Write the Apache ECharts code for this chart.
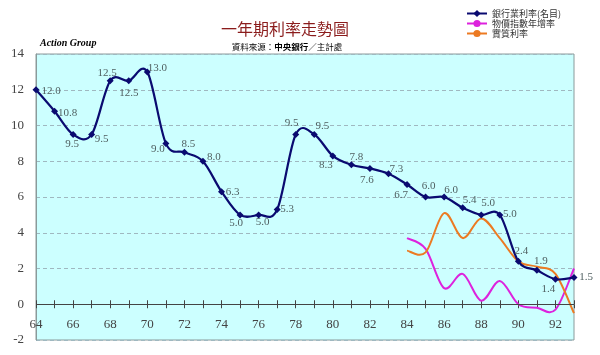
<!DOCTYPE html>
<html>
<head>
<meta charset="utf-8">
<script src="https://cdn.jsdelivr.net/npm/echarts@6/dist/echarts.min.js"></script>
<style>html,body{margin:0;padding:0;background:#fff;}#c{width:600px;height:355px;}</style>
</head>
<body>
<div id="c"></div>
<script>
// ---- data ----
const years = [64,65,66,67,68,69,70,71,72,73,74,75,76,77,78,79,80,81,82,83,84,85,86,87,88,89,90,91,92,93];
const bankRate = [12.0,10.8,9.5,9.5,12.5,12.5,13.0,9.0,8.5,8.0,6.3,5.0,5.0,5.3,9.5,9.5,8.3,7.8,7.6,7.3,6.7,6.0,6.0,5.4,5.0,5.0,2.4,1.9,1.4,1.5];
const cpiYears = [84,85,86,87,88,89,90,91,92,93];
const cpiGrowth = [3.7,3.1,0.9,1.7,0.2,1.3,0.0,-0.2,-0.3,2.0];
const realRate = [3.0,2.9,5.1,3.7,4.8,3.7,2.4,2.1,1.7,-0.5];
const xTickLabels = [64,66,68,70,72,74,76,78,80,82,84,86,88,90,92];
const yTicks = [-2,0,2,4,6,8,10,12,14];
const seriesNames = ['銀行業利率(名目)','物價指數年增率','實質利率'];

// ---- styling / label placement (by index) ----
const colors = ['#0a0a70','#dd22dd','#ec7a22'];
const labelOffsets = [[15,1],[13,2],[-1,10],[10,5],[-3,-8],[0,12],[10,-4],[-8,6],[4,-8],[11,-4],
  [11,0],[-4,8],[4,7],[10,0],[-4,-11],[8,-8],[-7,9],[5,-8],[-3,12],[8,-5],
  [-6,11],[3,-11],[7,-7],[7,-8],[7,-12],[10,-1],[3,-10],[4,-9],[-7,10],[12,0]];

const chart = echarts.init(document.getElementById('c'));
const serif = 'Liberation Serif';
const cjk = 'Noto Sans CJK TC';
const X = 1; // axis used by the series

// smooth curve (cardinal spline, like spreadsheet smoothing) through points mapped by the axes
function curveRenderer(xs, ys, color, width) {
  return function (params, api) {
    const pts = xs.map((x, i) => api.coord([x, ys[i]]));
    let d = 'M' + pts[0][0] + ',' + pts[0][1];
    for (let i = 0; i < pts.length - 1; i++) {
      const p0 = pts[i - 1] || pts[i], p1 = pts[i], p2 = pts[i + 1], p3 = pts[i + 2] || pts[i + 1];
      const c1x = p1[0] + (p2[0] - p0[0]) / 6, c1y = p1[1] + (p2[1] - p0[1]) / 6;
      const c2x = p2[0] - (p3[0] - p1[0]) / 6, c2y = p2[1] - (p3[1] - p1[1]) / 6;
      d += ' C' + c1x + ',' + c1y + ' ' + c2x + ',' + c2y + ' ' + p2[0] + ',' + p2[1];
    }
    return {type: 'path', shape: {pathData: d}, style: {stroke: color, lineWidth: width, fill: 'none', lineJoin: 'round'}};
  };
}

const blueData = years.map((y, i) => ({value: [y, bankRate[i]], label: {offset: labelOffsets[i]}}));

const xBase = {type: 'value', min: 64, max: 93, interval: 1, splitLine: {show: false}, axisLabel: {show: false}};

chart.setOption({
  animation: false,
  backgroundColor: '#ffffff',
  graphic: [
    {type: 'text', x: 285, y: 29, style: {text: '一年期利率走勢圖', font: 'normal 16px "Noto Sans CJK TC"', fill: '#8b1c1c', align: 'center', verticalAlign: 'middle'}},
    {type: 'text', x: 287, y: 47, style: {
      text: '{a|資料來源：}{b|中央銀行}{a|／主計處}', align: 'center', verticalAlign: 'middle',
      rich: {a: {fontFamily: cjk, fontSize: 8.5, color: '#5a68b0'}, b: {fontFamily: cjk, fontSize: 8.5, fontWeight: 'bold', color: '#1a2a7a'}}}},
    {type: 'text', x: 40, y: 43, style: {text: 'Action Group', font: 'italic bold 10px "Liberation Serif"', fill: '#000', align: 'left', verticalAlign: 'middle'}}
  ],
  legend: {
    orient: 'vertical', left: 461, top: 4, itemWidth: 20, itemHeight: 9, itemGap: 1,
    textStyle: {fontFamily: cjk, fontSize: 9, color: '#333'},
    data: seriesNames.map((n, i) => ({name: n, lineStyle: {opacity: 1, width: 2, color: colors[i]}}))
  },
  grid: {left: 36, right: 26, top: 54, bottom: 15, show: true, backgroundColor: '#ccffff', borderColor: '#8a9a9a', borderWidth: 1},
  xAxis: [
    Object.assign({}, xBase, {position: 'bottom', show: false, axisLine: {show: false, onZero: false}}),
    Object.assign({}, xBase, {
      position: 'top',
      axisLine: {show: false, onZero: true, onZeroAxisIndex: 0},
      axisTick: {show: true, inside: true, length: 4, lineStyle: {color: '#444'}}
    }),
    Object.assign({}, xBase, {
      position: 'top',
      axisLine: {show: false, onZero: true, onZeroAxisIndex: 0},
      axisTick: {show: true, length: 4, lineStyle: {color: '#444'}}
    })
  ],
  yAxis: {
    type: 'value', min: yTicks[0], max: yTicks[yTicks.length - 1], interval: 2,
    axisLine: {show: true, onZero: false, lineStyle: {color: '#8a9a9a'}},
    axisTick: {show: false},
    axisLabel: {fontFamily: serif, fontSize: 13, color: '#444', margin: 12},
    splitLine: {show: true, lineStyle: {type: [4, 3], color: '#9fb8c0', width: 1}}
  },
  series: [
    {type: 'custom', name: 'curve-cpi', silent: true, z: 2, xAxisIndex: X, yAxisIndex: 0,
      data: [[cpiYears[0], cpiGrowth[0]]], renderItem: curveRenderer(cpiYears, cpiGrowth, colors[1], 2)},
    {type: 'custom', name: 'curve-real', silent: true, z: 3, xAxisIndex: X, yAxisIndex: 0,
      data: [[cpiYears[0], realRate[0]]], renderItem: curveRenderer(cpiYears, realRate, colors[2], 2)},
    {type: 'custom', name: 'curve-bank', silent: true, z: 4, xAxisIndex: X, yAxisIndex: 0,
      data: [[years[0], bankRate[0]]], renderItem: curveRenderer(years, bankRate, colors[0], 2.2)},
    {
      name: 'x-labels', type: 'scatter', silent: true, xAxisIndex: X, z: 6,
      data: xTickLabels.map(v => [v, 0]),
      symbol: 'circle', symbolSize: 1, itemStyle: {color: 'rgba(0,0,0,0)'},
      label: {show: true, position: 'bottom', distance: 13, opacity: 1, fontFamily: serif, fontSize: 13, color: '#444',
        formatter: p => String(p.value[0])}
    },
    {
      name: seriesNames[0], type: 'line', xAxisIndex: X,
      data: blueData,
      symbol: 'diamond', symbolSize: 7,
      lineStyle: {color: colors[0], width: 2, opacity: 0},
      itemStyle: {color: colors[0]},
      label: {show: true, position: 'inside', align: 'center', verticalAlign: 'middle',
        fontFamily: serif, fontSize: 11, color: '#4f5f60',
        formatter: p => p.value[1].toFixed(1)},
      markLine: {silent: true, symbol: 'none', label: {show: false}, animation: false,
        lineStyle: {color: '#444', width: 1, type: 'solid', opacity: 1},
        data: [{yAxis: 0}]},
      z: 5
    },
    {
      name: seriesNames[1], type: 'line', xAxisIndex: X,
      data: cpiYears.map((y, i) => [y, cpiGrowth[i]]),
      symbol: 'none', showSymbol: false,
      lineStyle: {color: colors[1], width: 2, opacity: 0},
      itemStyle: {color: colors[1]}, z: 1
    },
    {
      name: seriesNames[2], type: 'line', xAxisIndex: X,
      data: cpiYears.map((y, i) => [y, realRate[i]]),
      symbol: 'none', showSymbol: false,
      lineStyle: {color: colors[2], width: 2, opacity: 0},
      itemStyle: {color: colors[2]}, z: 1
    }
  ]
});
</script>
</body>
</html>
